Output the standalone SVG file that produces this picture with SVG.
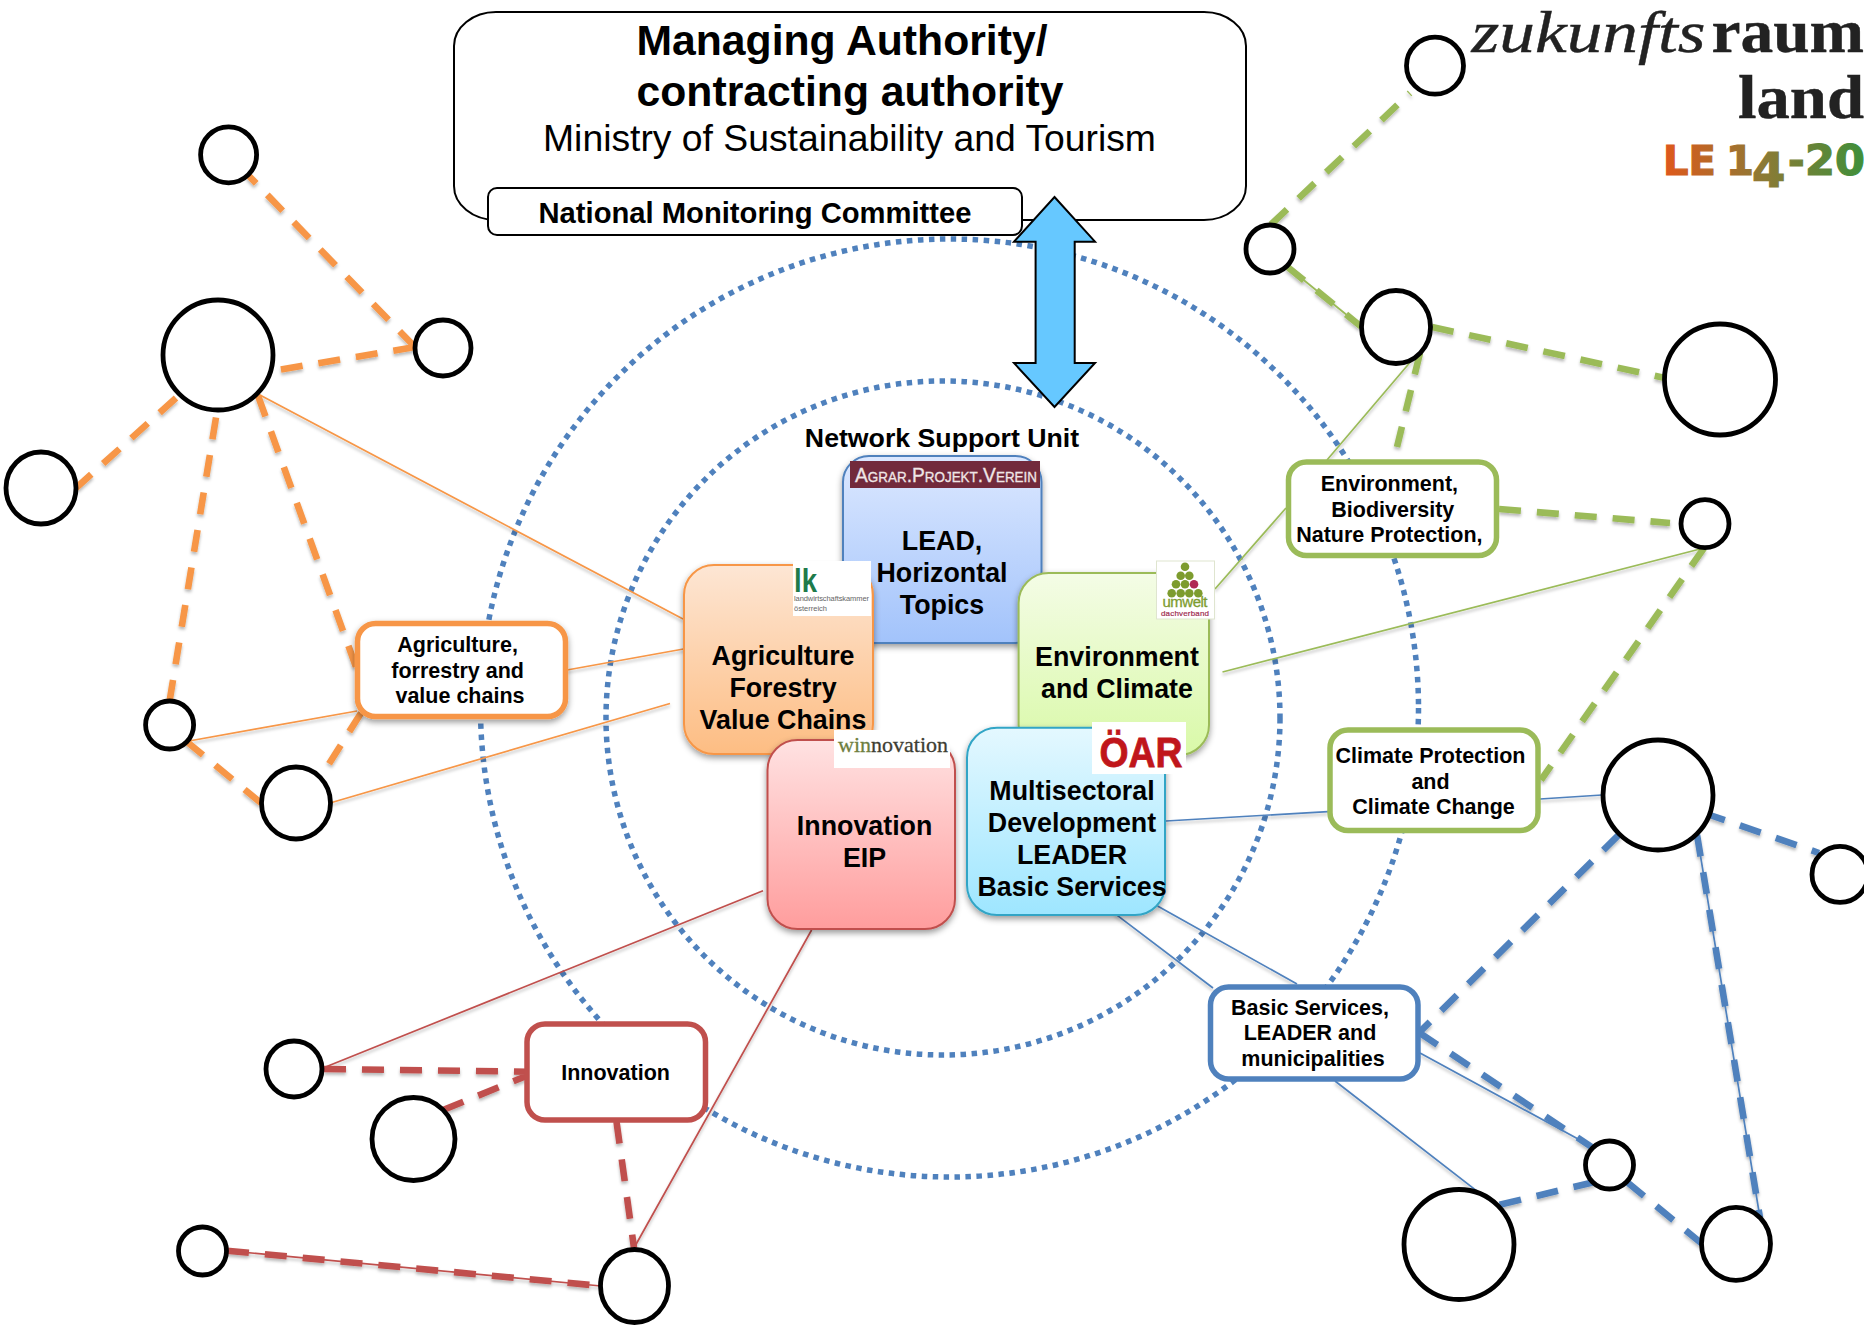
<svg xmlns="http://www.w3.org/2000/svg" width="1864" height="1326" viewBox="0 0 1864 1326">
<style>
text{font-family:"Liberation Sans",Arial,sans-serif;fill:#000;text-anchor:middle}
.b{font-weight:700}
.t26{font-size:26.8px;font-weight:700}
.t21{font-size:21.5px;font-weight:700}
.ring{fill:none;stroke:#4f81bd;stroke-width:5.5;stroke-dasharray:5.5 5.5}
.n{fill:#fff;stroke:#000;stroke-width:4.8}
.thin{fill:none;stroke-width:1.7}
.dash{fill:none;stroke-width:6.6;stroke-dasharray:22 16}
.o{stroke:#f79646}.g{stroke:#9bbb59}.bl{stroke:#4f81bd}.r{stroke:#c0504d}
.lab{fill:#fff;stroke-width:5.5}
.box{stroke-width:2}
.serif{font-family:"Liberation Serif",serif;text-anchor:start}
.tiny{font-size:7.500px;fill:#666;text-anchor:start}
</style>
<defs>
<filter id="sh" x="-10%" y="-10%" width="120%" height="125%"><feDropShadow dx="0" dy="3" stdDeviation="3" flood-color="#000" flood-opacity=".4"/></filter>
<filter id="ls" x="-5%" y="-5%" width="110%" height="110%"><feDropShadow dx="0" dy="2.5" stdDeviation="1.5" flood-color="#000" flood-opacity=".28"/></filter>
<linearGradient id="gb" x1="0" y1="0" x2="0" y2="1"><stop offset="0" stop-color="#dce8ff"/><stop offset="1" stop-color="#a2c3fb"/></linearGradient>
<linearGradient id="go" x1="0" y1="0" x2="0" y2="1"><stop offset="0" stop-color="#fde6d4"/><stop offset="1" stop-color="#fdbd83"/></linearGradient>
<linearGradient id="gg" x1="0" y1="0" x2="0" y2="1"><stop offset="0" stop-color="#f4fce6"/><stop offset="1" stop-color="#d9f9a8"/></linearGradient>
<linearGradient id="gc" x1="0" y1="0" x2="0" y2="1"><stop offset="0" stop-color="#e4f8ff"/><stop offset="1" stop-color="#9ee6ff"/></linearGradient>
<linearGradient id="gr" x1="0" y1="0" x2="0" y2="1"><stop offset="0" stop-color="#ffe2e2"/><stop offset="1" stop-color="#ff9d9d"/></linearGradient>
<linearGradient id="le" gradientUnits="userSpaceOnUse" x1="1663" y1="0" x2="1864" y2="0"><stop offset="0" stop-color="#e0581a"/><stop offset=".5" stop-color="#8c7a35"/><stop offset="1" stop-color="#3f8f3a"/></linearGradient>
</defs>
<g id="rings">
<circle class="ring" cx="949.500" cy="708" r="469"/>
<circle class="ring" cx="943" cy="718" r="337"/>
</g>
<g id="connectors">
<g filter="url(#ls)">
<path class="thin o" d="M258 394L683 619M567 670L689 648M189 741L357 711M330 803L670 703.5"/>
<path class="dash o" d="M415 347L248 175M415 347L272 371M176 398L76 488M216 417.5L169.6 701M258 395.7L357 669.6M361 713L322 775M186 741L261 803"/>
<path class="dash g" d="M1271 224.5L1410 93M1287 266.5L1361 326.5M1432 327L1665 378M1420 353L1397 447M1499 509L1670 523M1704 548L1541 780"/>
<path class="thin g" d="M1287 266.5L1361 326.5M1418 353L1327 460M1286 508L1215 589M1704 548L1222.5 672"/>
<path class="thin bl" d="M1166 821L1328 811.6M1540 799L1602 795M1157.5 906L1297 984M1114.6 913.4L1213 988M1420 1053L1594.6 1148M1335 1081L1497 1206.6M1697 834.7L1760 1217.8"/>
<path class="dash bl" d="M1619 834.7L1419 1032.6M1419 1032.6L1594.6 1149M1499.6 1204.8L1594.6 1182M1627 1182L1702 1243.8M1697 834.7L1760 1217.8M1704 813L1819 853"/>
<path class="thin r" d="M323 1068L763 890.7M634 1248L811.6 930M227 1250.7L601 1286"/>
<path class="dash r" d="M324 1069L527 1071.7M443 1110L527 1075.7M616.5 1121.7L634 1248M227 1250.7L601 1286"/>
</g>
</g>
<g id="authority">
<rect x="454" y="12" width="792" height="208" rx="42" ry="34" fill="#fff" stroke="#000" stroke-width="2"/>
<text class="b" x="842" y="54.500" font-size="42.700">Managing Authority/</text>
<text class="b" x="850" y="105.500" font-size="42.700">contracting authority</text>
<text x="849.500" y="151" font-size="37.300">Ministry of Sustainability and Tourism</text>
</g>
<g id="monitoring">
<rect x="488" y="188" width="534" height="47" rx="9" fill="#fff" stroke="#000" stroke-width="2"/>
<text class="b" x="755" y="223" font-size="29.200">National Monitoring Committee</text>
</g>
<g id="arrow">
<path d="M1054.500 197L1095 241.700H1074.700V363H1095L1054.500 407L1014 363H1035.600V241.700H1014Z" fill="#66c8ff" stroke="#000" stroke-width="2"/>
</g>
<text class="b" x="942" y="447" font-size="26.700">Network Support Unit</text>
<g id="lead">
<rect class="box" x="843" y="456" width="198.500" height="187" rx="26" fill="url(#gb)" stroke="#4f81bd" filter="url(#sh)"/>
<rect x="850" y="461" width="190" height="27" fill="#722a3c"/>
<text x="946" y="482" font-size="20" style="fill:#efe6e6;stroke:#efe6e6;stroke-width:.3;font-variant:small-caps" textLength="182" lengthAdjust="spacingAndGlyphs">Agrar.Projekt.Verein</text>
<text class="t26" x="942" y="550">LEAD,</text>
<text class="t26" x="942" y="582">Horizontal</text>
<text class="t26" x="942" y="614">Topics</text>
</g>
<g id="agriculture">
<rect class="box" x="684" y="565" width="189" height="189" rx="30" fill="url(#go)" stroke="#f79646" filter="url(#sh)"/>
<rect x="793" y="561" width="78" height="55" fill="#fff"/>
<text class="b" x="794" y="592" font-size="34" style="fill:#1e7a4a;text-anchor:start" textLength="23" lengthAdjust="spacingAndGlyphs">lk</text>
<text class="tiny" x="794" y="601" textLength="75">landwirtschaftskammer</text>
<text class="tiny" x="794" y="610.500" textLength="33">österreich</text>
<text class="t26" x="783" y="665">Agriculture</text>
<text class="t26" x="783" y="697">Forestry</text>
<text class="t26" x="783" y="728.500">Value Chains</text>
</g>
<g id="environment">
<rect class="box" x="1018.600" y="573" width="190.400" height="182" rx="30" fill="url(#gg)" stroke="#9bbb59" filter="url(#sh)"/>
<rect x="1156.500" y="561" width="58" height="58" fill="#fff" stroke="#dfe5cf" stroke-width="1"/>
<g fill="#7d9c2e">
<circle cx="1185" cy="566.700" r="4.300"/><circle cx="1180.700" cy="575.700" r="4.300"/><circle cx="1189.300" cy="575.700" r="4.300"/>
<circle cx="1176" cy="584.300" r="4.300"/><circle cx="1185" cy="584.300" r="4.300"/><circle cx="1194" cy="584.300" r="4.300" fill="#b02a55"/>
<circle cx="1171.700" cy="593.300" r="4.300"/><circle cx="1180.700" cy="593.300" r="4.300"/><circle cx="1189.300" cy="593.300" r="4.300"/><circle cx="1198.300" cy="593.300" r="4.300"/>
</g>
<text x="1185" y="607" font-size="15" style="fill:#7d9c2e;stroke:#7d9c2e;stroke-width:.3" textLength="45">umwelt</text>
<text x="1185" y="616" font-size="8" style="fill:#a02c50;stroke:#a02c50;stroke-width:.2" textLength="48">dachverband</text>
<text class="t26" x="1117" y="666">Environment</text>
<text class="t26" x="1117" y="698">and Climate</text>
</g>
<g id="innovation">
<rect class="box" x="767.500" y="740" width="187.500" height="189" rx="30" fill="url(#gr)" stroke="#c0504d" filter="url(#sh)"/>
<rect x="834" y="730" width="116" height="38" fill="#fff"/>
<text class="serif" x="838" y="752" font-size="22" style="fill:#3e3e33;stroke:#3e3e33;stroke-width:.3"><tspan style="fill:#6f7f3f;stroke:#6f7f3f">win</tspan>novation</text>
<text class="t26" x="864.600" y="835">Innovation</text>
<text class="t26" x="864.600" y="867">EIP</text>
</g>
<g id="multisectoral">
<rect class="box" x="967" y="727.700" width="198" height="187.300" rx="30" fill="url(#gc)" stroke="#31a5c6" filter="url(#sh)"/>
<rect x="1092" y="722" width="94" height="52" fill="#fff"/>
<text class="b" x="1141" y="767" font-size="42" style="fill:#c0161b;stroke:#c0161b;stroke-width:.8" textLength="83" lengthAdjust="spacingAndGlyphs">ÖAR</text>
<text class="t26" x="1072" y="800">Multisectoral</text>
<text class="t26" x="1072" y="832">Development</text>
<text class="t26" x="1072" y="863.500">LEADER</text>
<text class="t26" x="1072" y="895.500">Basic Services</text>
</g>
<g id="label-agriculture">
<rect class="lab o" x="357.500" y="623.500" width="208" height="93" rx="18" filter="url(#sh)"/>
<text class="t21" x="457.600" y="652">Agriculture,</text>
<text class="t21" x="457.600" y="678">forrestry and</text>
<text class="t21" x="460" y="703">value chains</text>
</g>
<g id="label-environment">
<rect class="lab g" x="1288.500" y="462" width="208" height="93.500" rx="18"/>
<text class="t21" x="1389.400" y="491">Environment,</text>
<text class="t21" x="1392.800" y="517">Biodiversity</text>
<text class="t21" x="1389.400" y="542">Nature Protection,</text>
</g>
<g id="label-climate">
<rect class="lab g" x="1330" y="730" width="208" height="100.500" rx="18"/>
<text class="t21" x="1430.500" y="763">Climate Protection</text>
<text class="t21" x="1430.500" y="788.600">and</text>
<text class="t21" x="1433.500" y="814">Climate Change</text>
</g>
<g id="label-basic">
<rect class="lab bl" x="1210.500" y="987" width="207.500" height="92" rx="18"/>
<text class="t21" x="1310" y="1014.500">Basic Services,</text>
<text class="t21" x="1310" y="1039.800">LEADER and</text>
<text class="t21" x="1313" y="1066">municipalities</text>
</g>
<g id="label-innovation">
<rect class="lab r" x="527" y="1024" width="178.500" height="96" rx="18"/>
<text class="t21" x="615.600" y="1079.500">Innovation</text>
</g>
<g id="n1"><ellipse class="n" cx="228.600" cy="154.800" rx="28" ry="28"/></g>
<g id="n2"><ellipse class="n" cx="218" cy="355" rx="55" ry="55"/></g>
<g id="n3"><ellipse class="n" cx="443" cy="348" rx="28" ry="28"/></g>
<g id="n4"><ellipse class="n" cx="41" cy="488" rx="35" ry="36"/></g>
<g id="n5"><ellipse class="n" cx="169.600" cy="725" rx="24" ry="24"/></g>
<g id="n6"><ellipse class="n" cx="296" cy="803" rx="34.500" ry="36"/></g>
<g id="n7"><ellipse class="n" cx="1435" cy="65.700" rx="28.500" ry="28.500"/></g>
<g id="n8"><ellipse class="n" cx="1270" cy="249" rx="24" ry="24"/></g>
<g id="n9"><ellipse class="n" cx="1396" cy="327" rx="34.500" ry="36.500"/></g>
<g id="n10"><ellipse class="n" cx="1720" cy="379.500" rx="55.500" ry="55.500"/></g>
<g id="n11"><ellipse class="n" cx="1705" cy="523.700" rx="24" ry="24"/></g>
<g id="n12"><ellipse class="n" cx="1658" cy="795" rx="55" ry="55"/></g>
<g id="n13"><ellipse class="n" cx="1840" cy="874.400" rx="28" ry="28"/></g>
<g id="n14"><ellipse class="n" cx="1459" cy="1244.500" rx="55" ry="55"/></g>
<g id="n15"><ellipse class="n" cx="1609.500" cy="1165" rx="24" ry="24"/></g>
<g id="n16"><ellipse class="n" cx="1736" cy="1243.800" rx="34.500" ry="36.500"/></g>
<g id="n17"><ellipse class="n" cx="294" cy="1069" rx="28" ry="28"/></g>
<g id="n18"><ellipse class="n" cx="413.500" cy="1139" rx="41.500" ry="41.500"/></g>
<g id="n19"><ellipse class="n" cx="202.500" cy="1251" rx="24" ry="24"/></g>
<g id="n20"><ellipse class="n" cx="634.500" cy="1286" rx="34" ry="36.500"/></g>
<g id="logo">
<text class="serif" x="1471.500" y="51.700" font-size="60" style="font-style:italic;fill:#222;stroke:#222;stroke-width:.4" textLength="234" lengthAdjust="spacingAndGlyphs">zukunfts</text>
<text class="serif" x="1711.500" y="51.700" font-size="62" style="font-weight:700;fill:#222;stroke:#222;stroke-width:.4" textLength="152.500" lengthAdjust="spacingAndGlyphs">raum</text>
<text class="serif" x="1738" y="117.700" font-size="62" style="font-weight:700;fill:#222;stroke:#222;stroke-width:.4" textLength="126" lengthAdjust="spacingAndGlyphs">land</text>
<text x="1663" y="175" font-size="40" style="font-family:'DejaVu Sans',sans-serif;font-weight:700;fill:url(#le);stroke:url(#le);stroke-width:1.2;text-anchor:start"><tspan x="1663">LE</tspan><tspan x="1726">1</tspan><tspan x="1752" dy="12" font-size="48">4</tspan><tspan x="1788" dy="-12">-</tspan><tspan x="1805" font-size="43">20</tspan></text>
</g>
</svg>
